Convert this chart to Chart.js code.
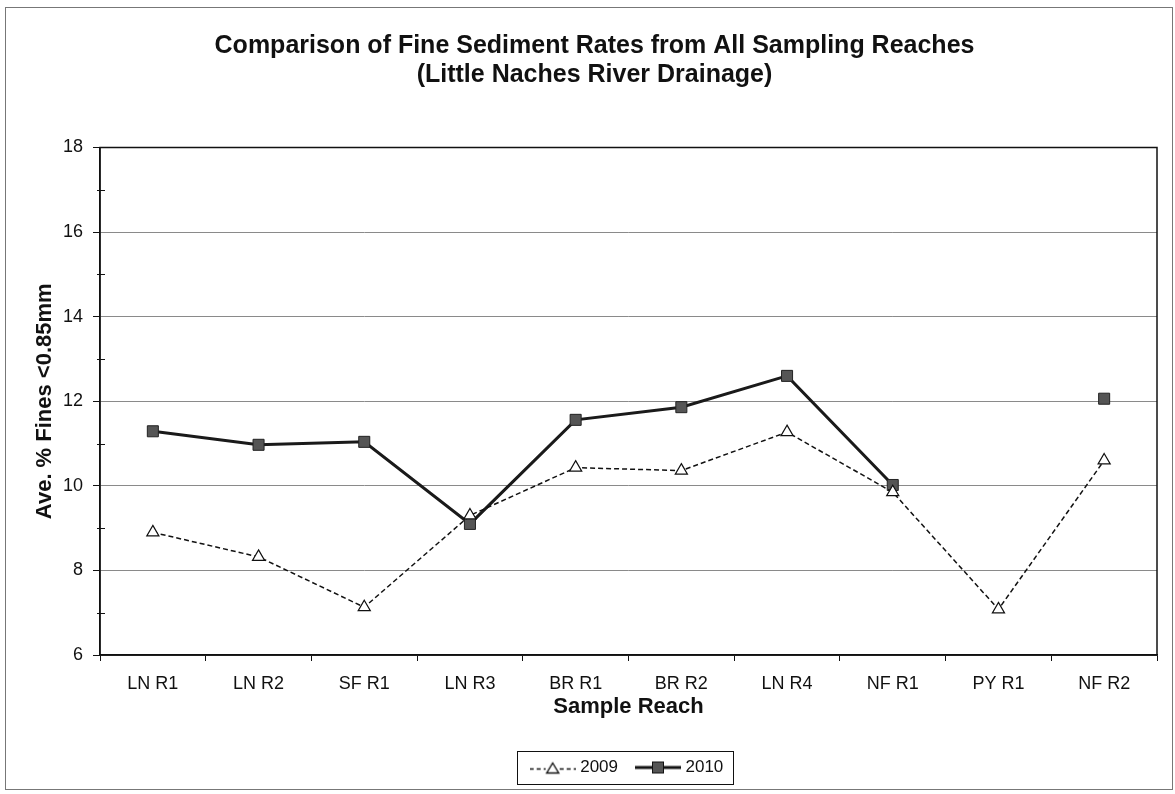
<!DOCTYPE html>
<html>
<head>
<meta charset="utf-8">
<title>Fine Sediment Rates</title>
<script src="https://cdn.jsdelivr.net/npm/chart.js@4.4.1/dist/chart.umd.min.js"></script>
<style>
    html, body { margin: 0; padding: 0; background: #fff; }
    #wrap { position: relative; width: 1175px; height: 794px; }
</style>
</head>
<body>
<div id="wrap"><canvas id="sedimentChart" width="1175" height="794"></canvas></div>
<script>
// data
const reaches = ['LN R1', 'LN R2', 'SF R1', 'LN R3', 'BR R1', 'BR R2', 'LN R4', 'NF R1', 'PY R1', 'NF R2'];
const fines2009 = [8.9, 8.32, 7.13, 9.3, 10.43, 10.36, 11.27, 9.85, 7.08, 10.6];
const fines2010 = [11.29, 10.97, 11.04, 9.1, 11.56, 11.86, 12.6, 10.02, null, 12.06];
const yTicks = [6, 8, 10, 12, 14, 16, 18];
const yMinorTicks = [7, 9, 11, 13, 15, 17];

const fontFamily = '"Liberation Sans", Arial, sans-serif';
const ink = '#111';

// little legend samples: line + marker
function legendSwatch(kind){
    let c = document.createElement('canvas');
    c.width = 46;
    c.height = 16;
    let g = c.getContext('2d');
    g.strokeStyle = ink;
    if(kind == 'triangle'){
        g.lineWidth = 1.4;
        g.setLineDash([4, 3]);
        g.beginPath();
        g.moveTo(0, 9.5); g.lineTo(16, 9.5);
        g.moveTo(30, 9.5); g.lineTo(46, 9.5);
        g.stroke();
        g.setLineDash([]);
        g.beginPath();
        g.moveTo(23, 3.5); g.lineTo(29, 13.5); g.lineTo(17, 13.5);
        g.closePath();
        g.fillStyle = '#fff';
        g.fill();
        g.stroke();
    }
    else{
        g.lineWidth = 3;
        g.beginPath();
        g.moveTo(0, 8); g.lineTo(46, 8);
        g.stroke();
        g.fillStyle = '#555';
        g.fillRect(17.5, 2.5, 11, 11);
        g.lineWidth = 1;
        g.strokeRect(17.5, 2.5, 11, 11);
    }
    return c;
}
let swatches = [legendSwatch('triangle'), legendSwatch('square')];

// outer frame, plot border, minor y ticks, legend box
const decorations = {
    id : 'decorations',
    beforeDraw(chart){
        let ctx = chart.ctx;
        ctx.save();
        ctx.fillStyle = '#fff';
        ctx.fillRect(0, 0, chart.width, chart.height);
        ctx.strokeStyle = '#777';
        ctx.lineWidth = 1;
        ctx.strokeRect(5.5, 7.5, chart.width - 8, chart.height - 12);
        ctx.restore();
    },
    beforeDatasetsDraw(chart){
        let ctx = chart.ctx;
        let a = chart.chartArea;
        let y = chart.scales.y;
        ctx.save();
        ctx.strokeStyle = ink;
        ctx.lineWidth = 1.5;
        ctx.strokeRect(a.left, a.top, a.right - a.left, a.bottom - a.top);
        ctx.lineWidth = 1;
        ctx.beginPath();
        for(let v of yMinorTicks){
            let py = Math.round(y.getPixelForValue(v)) + 0.5;
            ctx.moveTo(a.left - 3, py);
            ctx.lineTo(a.left + 5, py);
        }
        ctx.stroke();
        ctx.restore();
    },
    afterDraw(chart){
        let boxes = chart.legend.legendHitBoxes;
        if(!boxes || boxes.length == 0) return;
        let left = Math.min(...boxes.map(b => b.left)) - 17;
        let right = Math.max(...boxes.map(b => b.left + b.width)) + 9;
        let mid = boxes[0].top + boxes[0].height / 2;
        let ctx = chart.ctx;
        ctx.save();
        ctx.strokeStyle = ink;
        ctx.lineWidth = 1;
        ctx.strokeRect(Math.round(left) + 0.5, Math.round(mid - 16.5) + 0.5, Math.round(right - left), 33);
        ctx.restore();
    }
};

let config = {
    type : 'line',
    data : {
        labels : reaches,
        datasets : [{
            label : '2009',
            data : fines2009,
            borderColor : ink,
            borderWidth : 1.5,
            borderDash : [5, 3],
            pointStyle : 'triangle',
            pointRadius : 7,
            pointBackgroundColor : '#fff',
            pointBorderColor : ink,
            pointBorderWidth : 1.2,
            tension : 0
        }, {
            label : '2010',
            data : fines2010,
            borderColor : '#1a1a1a',
            borderWidth : 3,
            pointStyle : 'rect',
            pointRadius : 7.8,
            pointBackgroundColor : '#555',
            pointBorderColor : '#222',
            pointBorderWidth : 1,
            spanGaps : false,
            tension : 0
        }]
    },
    options : {
        responsive : false,
        animation : false,
        devicePixelRatio : 1,
        layout : {
            padding : {left : 32, right : 18, top : 0, bottom : 8}
        },
        plugins : {
            title : {
                display : true,
                text : ['Comparison of Fine Sediment Rates from All Sampling Reaches', '(Little Naches River Drainage)'],
                color : ink,
                font : {family : fontFamily, size : 25, weight : 'bold', lineHeight : 1.16},
                padding : {top : 32, bottom : 57.5}
            },
            legend : {
                position : 'bottom',
                fullSize : false,
                labels : {
                    color : ink,
                    font : {family : fontFamily, size : 17},
                    usePointStyle : true,
                    pointStyleWidth : 38,
                    padding : 21,
                    generateLabels : function(chart){
                        return chart.data.datasets.map((ds, i) => ({
                            text : ds.label,
                            pointStyle : swatches[i],
                            fillStyle : 'transparent',
                            strokeStyle : 'transparent',
                            lineWidth : 0,
                            fontColor : ink,
                            datasetIndex : i,
                            hidden : false
                        }));
                    }
                }
            },
            tooltip : {enabled : false}
        },
        scales : {
            x : {
                offset : true,
                afterFit : function(scale){ scale.height = 83; },
                grid : {offset : true, drawOnChartArea : false, tickLength : 6, color : ink},
                border : {color : ink, width : 1.5},
                ticks : {color : ink, font : {family : fontFamily, size : 18}, padding : 12, maxRotation : 0, autoSkip : false},
                title : {
                    display : true,
                    text : 'Sample Reach',
                    color : ink,
                    font : {family : fontFamily, size : 22, weight : 'bold', lineHeight : 1.2},
                    padding : {top : 0, bottom : 17.4}
                }
            },
            y : {
                min : 6,
                max : 18,
                afterFit : function(scale){ scale.width = 68; },
                afterBuildTicks : function(scale){ scale.ticks = yTicks.map(v => ({value : v})); },
                grid : {color : '#8a8a8a', lineWidth : 1, tickLength : 7, tickColor : ink},
                border : {color : ink, width : 1.5},
                ticks : {color : ink, font : {family : fontFamily, size : 18}, padding : 10},
                title : {
                    display : true,
                    text : 'Ave. % Fines <0.85mm',
                    color : ink,
                    font : {family : fontFamily, size : 22, weight : 'bold', lineHeight : 1.2},
                    padding : {top : 0, bottom : 0}
                }
            }
        }
    },
    plugins : [decorations]
};

let chart = new Chart(document.getElementById('sedimentChart').getContext('2d'), config);
</script>
</body>
</html>
